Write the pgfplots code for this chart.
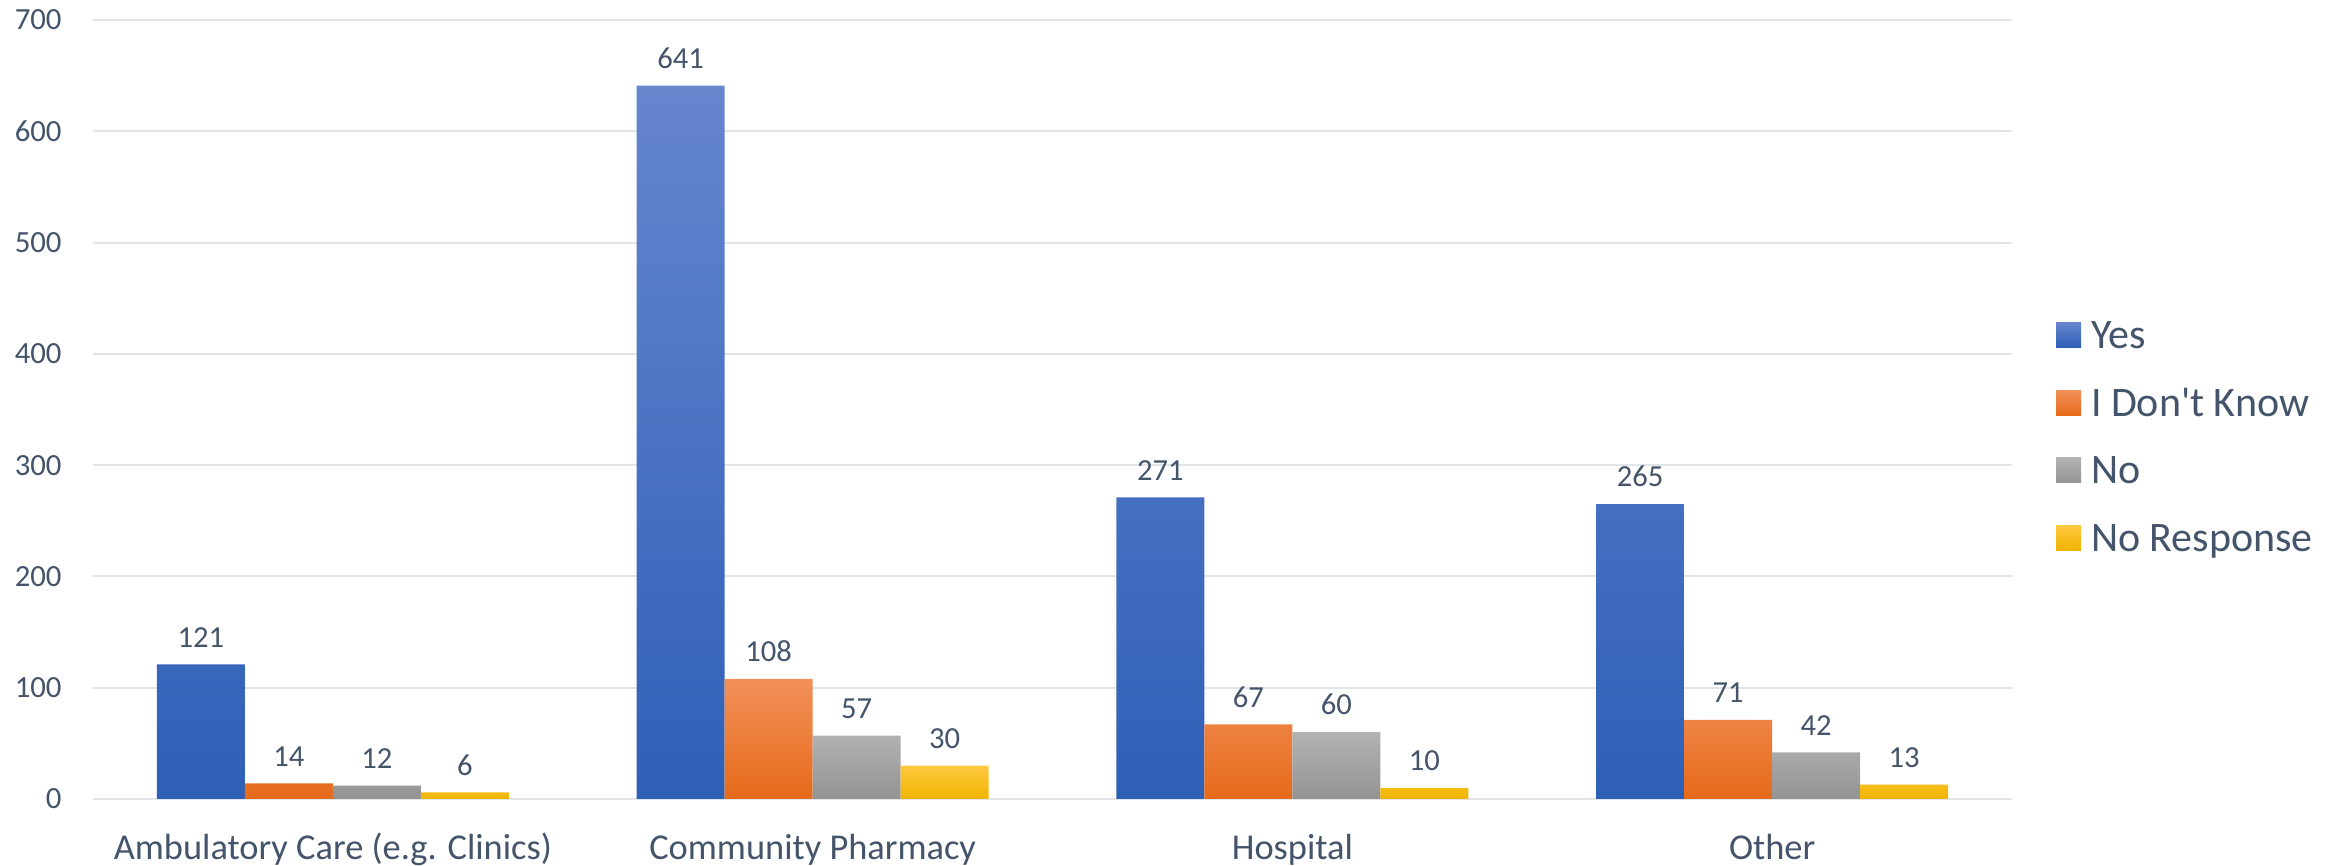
\documentclass[border=0pt]{standalone}
\usepackage{fontspec}
\setmainfont{Carlito}[Ligatures=TeXOff]
\usepackage{pgfplots}
\pgfplotsset{compat=1.18}

\definecolor{txt}{HTML}{44546A}
\definecolor{gridc}{HTML}{E1E5EA}
\definecolor{yesT}{HTML}{6686CE}
\definecolor{yesB}{HTML}{2E5FB7}
\definecolor{idkT}{HTML}{F29059}
\definecolor{idkB}{HTML}{E66A1A}
\definecolor{noT}{HTML}{B3B3B3}
\definecolor{noB}{HTML}{939393}
\definecolor{nrT}{HTML}{FFC940}
\definecolor{nrB}{HTML}{F0B400}

\begin{document}
\begin{tikzpicture}
\path[use as bounding box] (-46.5pt,-33.5pt) rectangle (1127.5pt,399.5pt);
\begin{axis}[
    at={(0,0)}, anchor=south west,
    scale only axis, width=959.5pt, height=389.5pt,
    ymin=0, ymax=700, ytick={0,100,...,700},
    xmin=-0.5, xmax=3.5, xtick={0,1,2,3},
    xticklabels={Ambulatory Care (e.g. Clinics),Community Pharmacy,Hospital,Other},
    axis line style={draw=none},
    major tick length=0pt,
    ymajorgrids, grid style={gridc, line width=1pt},
    /pgf/number format/assume math mode=true,
    yticklabel style={font=\fontsize{15.4}{18}\selectfont, text=txt, inner sep=0pt, xshift=-15.5pt},
    xticklabel style={font=\fontsize{18.2}{22}\selectfont, text=txt, anchor=base, yshift=-30pt},
    ybar, bar width=0.1834,
    nodes near coords,
    every node near coord/.append style={font=\fontsize{15.3}{18}\selectfont, text=txt, yshift=5pt},
    legend image code/.code={\fill[#1] (0pt,-6.25pt) rectangle (12.5pt,6.25pt);},
    legend style={at={(1,1)}, anchor=north west, xshift=22pt, yshift=-150.75pt,
        draw=none, fill=none, inner sep=0pt, outer sep=0pt,
        row sep=20.3pt, column sep=5pt,
        font=\fontsize{21}{25}\selectfont, text=txt,
        nodes={inner sep=0pt, text height=13.5pt, text depth=0pt}},
    legend cell align=left,
]
% Yes
\addplot[draw=none, bar shift=-0.2751, top color=yesT, bottom color=yesB]
    coordinates {(0,121) (1,641) (2,271) (3,265)};
% I Don't Know
\addplot[draw=none, bar shift=-0.0917, top color=idkT, bottom color=idkB]
    coordinates {(0,14) (1,108) (2,67) (3,71)};
% No
\addplot[draw=none, bar shift=0.0917, top color=noT, bottom color=noB]
    coordinates {(0,12) (1,57) (2,60) (3,42)};
% No Response
\addplot[draw=none, bar shift=0.2751, top color=nrT, bottom color=nrB]
    coordinates {(0,6) (1,30) (2,10) (3,13)};
\legend{Yes, I Don't Know, No, No Response}
\end{axis}
\end{tikzpicture}
\end{document}
